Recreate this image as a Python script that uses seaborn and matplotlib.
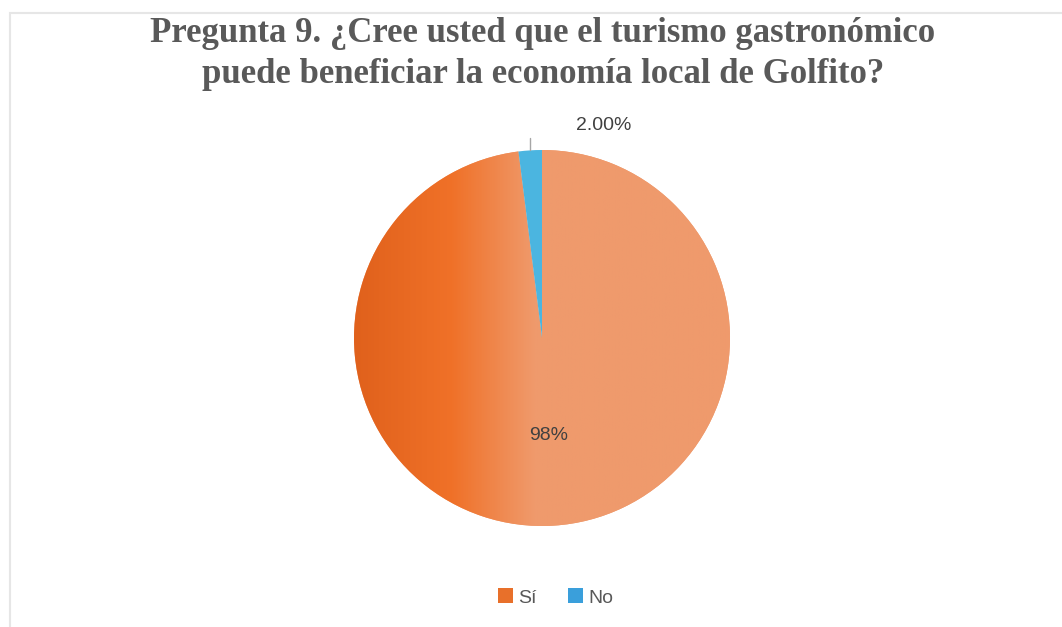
import numpy as np
import matplotlib
matplotlib.use("Agg")
import matplotlib.pyplot as plt
import seaborn as sns
from matplotlib.colors import LinearSegmentedColormap
from matplotlib.patches import Rectangle

categories = ["Sí", "No"]
values = [98, 2]
value_labels = ["98%", "2.00%"]
title = "Pregunta 9. ¿Cree usted que el turismo gastronómico\npuede beneficiar la economía local de Golfito?"

sns.set_style("white")
plt.rcParams['font.family'] = ['Liberation Sans', 'DejaVu Sans']

fig = plt.figure(figsize=(10.62, 6.27), dpi=100)

# light frame round the chart area
fig.patches.append(Rectangle((10 / 1062, -0.1), 1.2, (627 - 13) / 627 + 0.1,
                             transform=fig.transFigure, fill=False,
                             edgecolor="#e6e6e6", linewidth=1.5))

# pie axes: centre ~ (542, 338) px, radius ~188 px
ax = fig.add_axes([(542 - 188) / 1062, (627 - 338 - 188) / 627, 376 / 1062, 376 / 627])
wedges, texts, autotexts = ax.pie(
    values, colors=["#ef9a6d", "#4bb5e0"], startangle=90, counterclock=False,
    autopct=lambda p: "", pctdistance=0.52, radius=1,
    wedgeprops={"linewidth": 0})
ax.set_xlim(-1, 1)
ax.set_ylim(-1, 1)
ax.set_aspect("equal")
ax.axis("off")

# horizontal orange gradient on the big slice
cmap = LinearSegmentedColormap.from_list(
    "sgrad", [(0, "#e0611c"), (0.26, "#f07128"), (0.48, "#ef9a6c"), (1, "#ef9a6d")])
grad = np.tile(np.linspace(0, 1, 400), (10, 1))
img = ax.imshow(grad, extent=[-1, 1, -1, 1], cmap=cmap, aspect="auto",
                origin="lower", zorder=1.5)
img.set_clip_path(wedges[0])
wedges[1].set_zorder(2)

# data labels
autotexts[0].set_text(value_labels[0])
autotexts[0].set_fontsize(14)
autotexts[0].set_color("#404040")
autotexts[0].set_zorder(3)

th = np.deg2rad((wedges[1].theta1 + wedges[1].theta2) / 2)
ex, ey = np.cos(th), np.sin(th)
ax.plot([ex, ex], [ey, ey + 0.065], color="#a6a6a6", lw=1, clip_on=False)
autotexts[1].set_text(value_labels[1])
autotexts[1].set_position((ex + 0.39, ey * 1.13))
autotexts[1].set_fontsize(14)
autotexts[1].set_color("#404040")

fig.text(0.511, 1 - 54 / 627, title, ha="center", va="center", fontsize=25,
         fontweight="bold", color="#595959", family=["Liberation Serif", "DejaVu Serif"],
         linespacing=1.3)

leg = fig.legend(wedges, categories, loc="center", bbox_to_anchor=(0.523, 0.047), ncol=2,
                 frameon=False, fontsize=14, handlelength=0.8, handleheight=0.8,
                 handletextpad=0.25, columnspacing=1.6, labelcolor="#595959")
leg.legend_handles[0].set_facecolor("#e8702a")
leg.legend_handles[1].set_facecolor("#3a9fdb")

fig.savefig("out.png", dpi=100)
